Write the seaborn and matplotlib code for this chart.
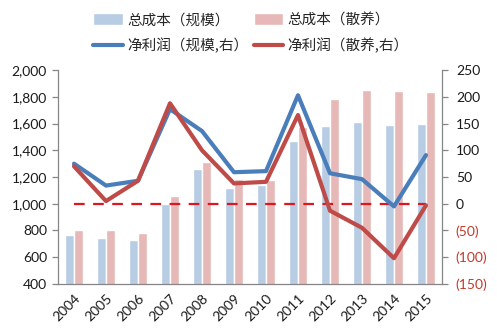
import matplotlib
matplotlib.use("Agg")
import matplotlib.pyplot as plt
from matplotlib.patches import Patch
from matplotlib.lines import Line2D
from matplotlib.ticker import FixedLocator, FuncFormatter
import seaborn as sns
import pandas as pd
import numpy as np

sns.set_style("white")
plt.rcParams["font.family"] = ["Lato", "Noto Sans CJK SC", "DejaVu Sans"]

years = ["2004", "2005", "2006", "2007", "2008", "2009",
         "2010", "2011", "2012", "2013", "2014", "2015"]
cost_scale = [768, 745, 730, 998, 1260, 1120, 1142, 1470, 1585, 1614, 1590, 1600]
cost_free = [803, 802, 784, 1060, 1314, 1182, 1180, 1576, 1781, 1850, 1845, 1834]
profit_scale = [75, 34, 43, 177, 136, 59, 61, 203, 57, 46, -5, 91]
profit_free = [70, 5, 43, 188, 100, 38, 41, 166, -13, -45, -102, -3]

label_cost_scale = "总成本（规模）"
label_cost_free = "总成本（散养）"
label_profit_scale = "净利润（规模,右）"
label_profit_free = "净利润（散养,右）"

c_bar_scale = "#B8CCE4"
c_bar_free = "#E6B9B8"
c_line_scale = "#4A7EBB"
c_line_free = "#BE4B48"
c_zero = "#E0161E"

bars = pd.DataFrame({
    "year": years * 2,
    "cost": cost_scale + cost_free,
    "kind": [label_cost_scale] * len(years) + [label_cost_free] * len(years),
})
lines = pd.DataFrame({
    "pos": list(range(len(years))) * 2,
    "profit": profit_scale + profit_free,
    "kind": [label_profit_scale] * len(years) + [label_profit_free] * len(years),
})

fig = plt.figure(figsize=(4.97, 3.34), dpi=100)
ax = fig.add_axes([0.1167, 0.150, 0.7726, 0.640])

sns.barplot(data=bars, x="year", y="cost", hue="kind", order=years,
            palette=[c_bar_scale, c_bar_free], width=0.54, gap=0,
            saturation=1, legend=False, ax=ax)
ax.set_xlim(-0.5, len(years) - 0.5)
ax.set_ylim(400, 2000)
ax.set_yticks(np.arange(400, 2001, 200))
ax.yaxis.set_major_formatter(FuncFormatter(lambda v, p: f"{int(v):,}"))
ax.set_xlabel("")
ax.set_ylabel("")

ax2 = ax.twinx()
sns.lineplot(data=lines, x="pos", y="profit", hue="kind",
             palette=[c_line_scale, c_line_free], linewidth=3,
             legend=False, ax=ax2)
ax2.hlines(0, 0, len(years) - 1, colors=c_zero, linestyles=(0, (4.8, 3.8)),
           linewidth=1.6, zorder=1)
ax2.set_xlim(-0.5, len(years) - 0.5)
ax2.set_ylim(-150, 250)
ax2.set_yticks(np.arange(-150, 251, 50))
ax2.yaxis.set_major_formatter(
    FuncFormatter(lambda v, p: f"({abs(int(v))})" if v < 0 else f"{int(v)}"))
ax2.set_xlabel("")
ax2.set_ylabel("")

# axis styling
spine_c = "#868686"
for a in (ax, ax2):
    a.spines["top"].set_visible(False)
    for s in ("left", "right", "bottom"):
        a.spines[s].set_color(spine_c)
        a.spines[s].set_linewidth(0.9)
ax.spines["right"].set_visible(False)
ax2.spines["left"].set_visible(False)
ax2.spines["bottom"].set_visible(False)

ax.tick_params(axis="y", direction="out", length=4, width=0.9, color=spine_c,
               labelsize=10, pad=4, labelcolor="#1a1a1a")
ax2.tick_params(axis="y", direction="out", length=4, width=0.9, color=spine_c,
                labelsize=10, pad=6)
for lbl, v in zip(ax2.get_yticklabels(), ax2.get_yticks()):
    lbl.set_color("#C0392B" if v < 0 else "#1a1a1a")

ax.xaxis.set_major_locator(FixedLocator(np.arange(len(years))))
ax.set_xticklabels(years, rotation=45, ha="right", rotation_mode="anchor",
                   fontsize=10, color="#1a1a1a")
ax.tick_params(axis="x", length=0, pad=6)
ax.set_xticks(np.arange(-0.5, len(years)), minor=True)
ax.tick_params(axis="x", which="minor", direction="out", length=4,
               width=0.9, color=spine_c)

# legend fills column-wise: bars on the first row, lines on the second
handles = [
    Patch(facecolor=c_bar_scale, label=label_cost_scale),
    Line2D([], [], color=c_line_scale, lw=3, label=label_profit_scale),
    Patch(facecolor=c_bar_free, label=label_cost_free),
    Line2D([], [], color=c_line_free, lw=3, label=label_profit_free),
]
leg = fig.legend(handles=handles, ncol=2, loc="upper center",
                 bbox_to_anchor=(0.505, 1.0), frameon=False,
                 prop={"family": ["Noto Sans CJK SC", "DejaVu Sans"], "size": 10.5},
                 handlelength=2.0, handleheight=0.9, handletextpad=0.3,
                 columnspacing=0.4, labelspacing=0.75)

fig.savefig("out.png", dpi=100)
